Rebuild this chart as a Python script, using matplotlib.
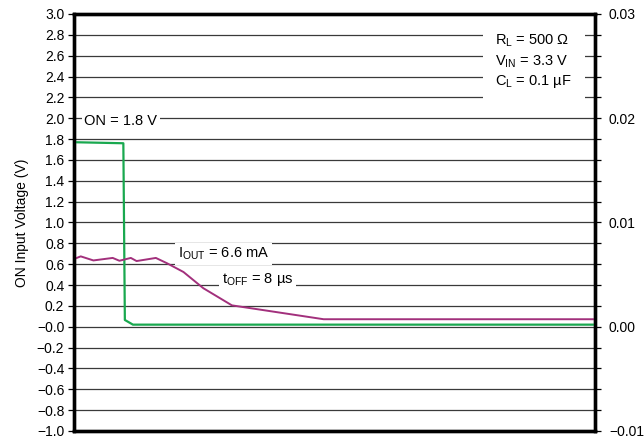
import numpy as np
import matplotlib
matplotlib.use("Agg")
import matplotlib.pyplot as plt
from matplotlib.patches import Rectangle
from matplotlib.ticker import MultipleLocator

# Time axis is unlabeled, use arbitrary 0-100 units
on_t = [0, 9.46, 9.75, 11.3, 100]
on_v = [1.77, 1.76, 0.065, 0.02, 0.02]

iout_t = [0, 1.28, 3.71, 7.42, 8.7, 10.9, 12.0, 15.7, 17.8, 21.0, 24.8, 30.3, 47.9, 100]
iout_v = [0.65, 0.675, 0.636, 0.66, 0.633, 0.66, 0.63, 0.66, 0.61, 0.525, 0.37, 0.205, 0.072, 0.072]

left_ticks = np.round(np.arange(-1.0, 3.01, 0.2), 1)
right_major = [-0.01, 0.0, 0.01, 0.02, 0.03]

plt.rcParams['font.family'] = ['Liberation Sans', 'DejaVu Sans']
plt.rcParams['font.size'] = 10.5
plt.rcParams['mathtext.fontset'] = 'custom'
plt.rcParams['mathtext.rm'] = 'Liberation Sans'

fig = plt.figure(figsize=(6.44, 4.41), dpi=100)
ax = fig.add_axes([0.115, 0.0227, 0.809, 0.9456])

for v in left_ticks:
    ax.axhline(v, color='#3a3a3a', lw=0.9, zorder=1)

ax.plot(on_t, on_v, color='#19a84f', lw=1.6, zorder=5)
ax.plot(iout_t, iout_v, color='#a2307c', lw=1.4, zorder=5)

ax.set_xlim(0, 100)
ax.set_ylim(-1.0, 3.0)
ax.set_yticks(left_ticks)
ax.set_yticklabels([f"{v:.1f}".replace('-', '\u2212') for v in left_ticks], fontsize=10)
ax.set_xticks([])
ax.tick_params(axis='y', direction='out', length=4, width=0.9, pad=3)
ax.set_ylabel("ON Input Voltage (V)", labelpad=6, fontsize=10)
for s in ax.spines.values():
    s.set_linewidth(2.4)

box = dict(facecolor='white', edgecolor='none', pad=2)
ax.text(2.0, 1.97, "ON = 1.8 V", va='center', ha='left', bbox=box, zorder=3)

# white area behind the test conditions
ax.add_patch(Rectangle((78.5, 2.15), 19.6, 0.72, facecolor='white', edgecolor='none', zorder=2))
ax.text(80.8, 2.74, "R$_\\mathregular{L}$ = 500 \u03a9", va='center', ha='left', zorder=3)
ax.text(80.8, 2.54, "V$_\\mathregular{IN}$ = 3.3 V", va='center', ha='left', zorder=3)
ax.text(80.8, 2.35, "C$_\\mathregular{L}$ = 0.1 \u00b5F", va='center', ha='left', zorder=3)

ax.text(19.9, 0.70, "I$_\\mathregular{OUT}$ = 6.6 mA", va='center', ha='left', bbox=box, zorder=3)
ax.text(28.4, 0.45, "t$_\\mathregular{OFF}$ = 8 \u00b5s", va='center', ha='left', bbox=box, zorder=3)

ax2 = ax.twinx()
ax2.set_ylim(-0.01, 0.03)
ax2.yaxis.set_minor_locator(MultipleLocator(0.002))
ax2.set_yticks(right_major)
ax2.set_yticklabels([f"{v:.2f}".replace('-', '\u2212') for v in right_major], fontsize=10)
ax2.tick_params(axis='y', which='both', direction='out', length=4, width=0.9, pad=6)
for s in ax2.spines.values():
    s.set_linewidth(2.4)

fig.savefig("out.png", dpi=100)
